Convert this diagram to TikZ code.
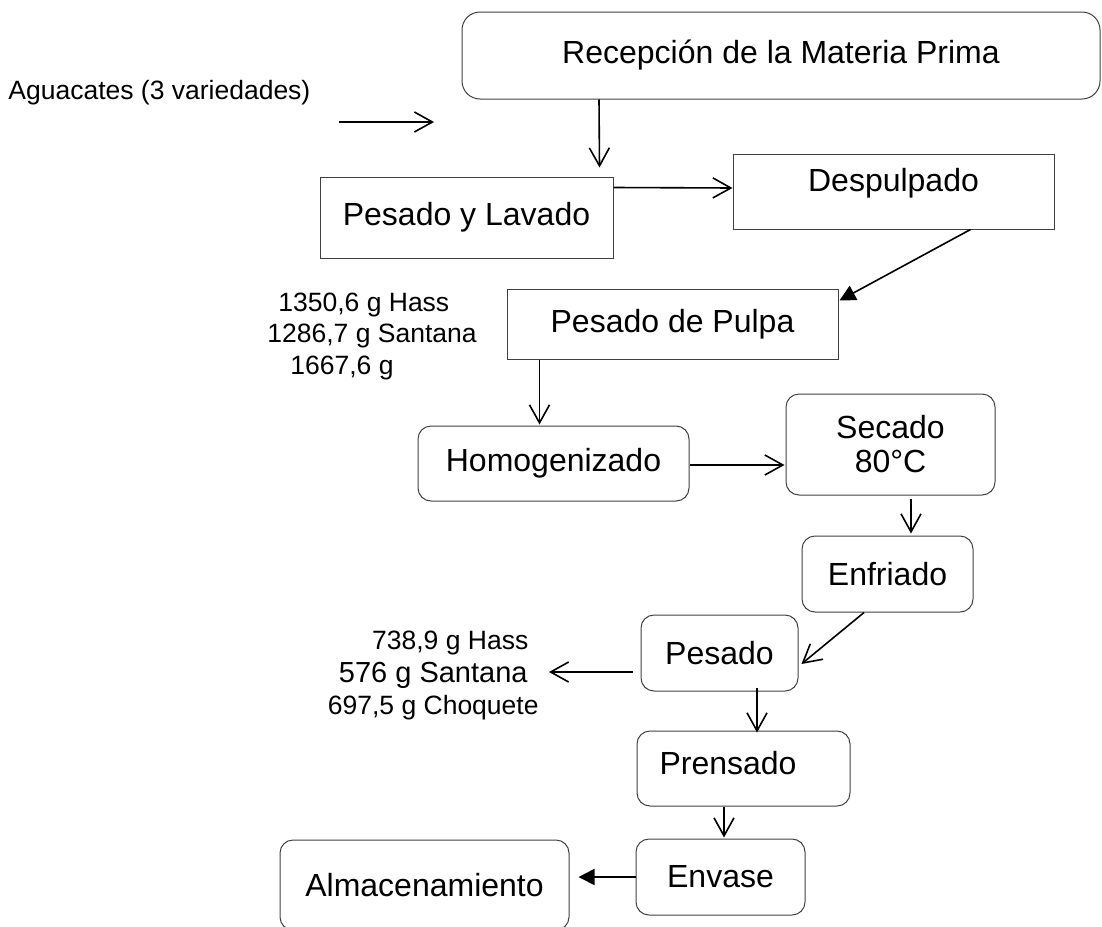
\documentclass[tikz,border=0pt]{standalone}
\usepackage{fontspec}
\setmainfont{Liberation Sans}
\usetikzlibrary{arrows.meta}
\begin{document}
\begin{tikzpicture}[x=0.5pt,y=-0.5pt,font=\fontsize{16}{17}\selectfont,
		caja/.style={draw=black!75,line width=0.5pt,inner sep=0pt},
		paso/.style={caja,rounded corners=6.5pt},
		dato/.style={font=\fontsize{13.25}{15.75}\selectfont,inner sep=0pt},
		>={Straight Barb[length=9pt,width=10pt]},
		flecha/.style={->,line width=0.8pt},
		llena/.style={-{Triangle[length=8pt,width=8pt]},line width=0.8pt}]
		\useasboundingbox (0,0) rectangle (1102,926);
		\node[paso,rounded corners=9pt,minimum width=319pt,minimum height=43.5pt] (recep) at (781,55.5) {Recepción de la Materia Prima};
		\node[caja,minimum width=146.5pt,minimum height=40.5pt] (pyl) at (466.5,217.5) {Pesado y Lavado};
		\node[caja,minimum width=160.5pt,minimum height=37.5pt,label={[yshift=4.25pt]center:Despulpado}] (desp) at (893.5,191.5) {};
		\node[caja,minimum width=165.5pt,minimum height=35pt] (pulpa) at (672.5,324) {Pesado de Pulpa};
		\node[paso,minimum width=135.5pt,minimum height=37.5pt] (homog) at (553.5,463.5) {Homogenizado};
		\node[paso,minimum width=104.5pt,minimum height=50.5pt,align=center] (secado) at (890.5,444.5) {Secado\\80°C};
		\node[paso,minimum width=85.5pt,minimum height=38pt] (enfr) at (887.5,574) {Enfriado};
		\node[paso,minimum width=78.5pt,minimum height=38pt] (pesado) at (719.5,653) {Pesado};
		\node[paso,minimum width=106.5pt,minimum height=37.5pt,label={[xshift=-7.75pt,yshift=2.75pt]center:Prensado}] (prens) at (743.5,768.5) {};
		\node[paso,minimum width=84.5pt,minimum height=38pt] (envase) at (720.5,877) {Envase};
		\node[paso,minimum width=144.5pt,minimum height=45pt] (almac) at (424.5,885) {Almacenamiento};
		% datos de entrada y de masa
		\node[dato,anchor=west] (entrada) at (8,93) {Aguacates (3 variedades)};
		\node[dato,anchor=west,align=left] (masa1) at (267,336) {\hspace*{5.5pt}1350,6 g Hass\\1286,7 g Santana\\\hspace*{11.5pt}1667,6 g};
		\node[dato,anchor=east,align=center,font=\fontsize{13.25}{16.25}\selectfont] (masa2) at (539,675.5) {\hspace*{17pt}738,9 g Hass\\{\fontsize{14.5}{16.25}\selectfont 576 g Santana}\\697,5 g Choquete};
		\coordinate (libreA) at (339,122);
		\coordinate (libreB) at (434,122);
		\path[flecha] (libreA) edge (libreB)
			([xshift=-91pt]recep.south) edge ([xshift=-7pt,yshift=4.5pt]pyl.north east)
			([yshift=-5.5pt]pyl.north east) edge ([yshift=1.75pt]desp.west)
			([xshift=16.5pt]pulpa.south west) edge ([xshift=61pt,yshift=0.5pt]homog.north west)
			([yshift=-0.75pt]homog.east) edge ([xshift=-0.5pt,yshift=-10.25pt]secado.west)
			([xshift=10.25pt,yshift=-1.5pt]secado.south) edge ([xshift=11.75pt,yshift=1pt]enfr.north)
			([xshift=-11.75pt]enfr.south) edge ([xshift=1.5pt,yshift=-5.5pt]pesado.east)
			([xshift=-4pt,yshift=-9.5pt]pesado.west) edge ([xshift=5pt,yshift=1.75pt]masa2.east)
			([xshift=18.75pt,yshift=2pt]pesado.south) edge ([xshift=6.75pt,yshift=-1pt]prens.north)
			([xshift=-9.75pt]prens.south) edge ([xshift=1.75pt,yshift=0.5pt]envase.north);
		\path[llena] ([xshift=-42pt]desp.south east) edge ([xshift=0.5pt,yshift=-6pt]pulpa.north east)
			(envase.west) edge ([xshift=4.5pt,yshift=4pt]almac.east);
	\end{tikzpicture}
\end{document}
